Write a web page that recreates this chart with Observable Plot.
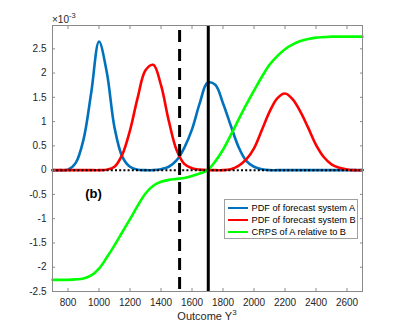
<!DOCTYPE html>
<html><head><meta charset="utf-8">
<script src="https://cdn.jsdelivr.net/npm/d3@7"></script>
<script src="https://cdn.jsdelivr.net/npm/@observablehq/plot@0.6"></script>
<style>
body{margin:0;background:#fff;font-family:"Liberation Sans",Arial,Helvetica,sans-serif;}
#wrap{position:relative;width:399px;height:327px;overflow:hidden;}
#wrap svg{display:block;}
.ov{position:absolute;color:#262626;white-space:nowrap;}
#mult{left:52px;top:14px;font-size:10px;line-height:12px;}
#mult sup{font-size:7.5px;vertical-align:5px;line-height:0;}
#xlab{left:0;width:414px;text-align:center;top:310px;font-size:11px;line-height:13px;}
#xlab sup{font-size:8px;vertical-align:5px;line-height:0;}
#legend{position:absolute;left:224px;top:199px;width:132px;height:38px;border:1px solid #a0a0a0;background:#fff;}
.lrow{position:absolute;left:3px;height:12px;display:flex;align-items:center;font-size:9.2px;color:#000;white-space:nowrap;}
.lrow i{display:inline-block;flex:none;width:20px;height:2.6px;margin-right:3.5px;}
</style></head><body>
<div id="wrap"></div>
<script>
// Outcome axis (Y^3) sample points
const outcome = [700,750,800,850,900,950,1000,1050,1100,1150,1200,1250,1300,1350,1400,1450,1500,1550,1600,1650,1700,1750,1800,1850,1900,1950,2000,2050,2100,2150,2200,2250,2300,2350,2400,2450,2500,2550,2600,2650,2700];
// values in units of 10^-3
const pdfA = [0,0,0.01,0.15,0.63,1.60,2.65,2.02,0.88,0.28,0.07,0.01,0,0,0.02,0.07,0.20,0.46,0.84,1.38,1.80,1.76,1.38,0.92,0.48,0.19,0.07,0.02,0,0,0,0,0,0,0,0,0,0,0,0,0];
const pdfB = [0,0,0,0,0,0,0,0.01,0.07,0.32,0.82,1.50,2.06,2.17,1.75,1.02,0.42,0.13,0.04,0.01,0,0,0,0.02,0.09,0.22,0.45,0.82,1.20,1.48,1.58,1.46,1.20,0.87,0.52,0.27,0.12,0.05,0.015,0,0];
const crpsAB = [-2.26,-2.26,-2.26,-2.25,-2.23,-2.17,-2.03,-1.80,-1.55,-1.28,-1.01,-0.73,-0.48,-0.32,-0.24,-0.20,-0.18,-0.16,-0.12,-0.07,0.00,0.18,0.42,0.72,1.04,1.35,1.64,1.92,2.17,2.35,2.49,2.59,2.66,2.70,2.73,2.74,2.75,2.75,2.75,2.75,2.75];
const seriesNames = ["PDF of forecast system A","PDF of forecast system B","CRPS of A relative to B"];
const dashedOutcome = [1520];
const solidOutcome = [1705];
const zeroLine = [0];
const xTicks = [800,1000,1200,1400,1600,1800,2000,2200,2400,2600];
const yTicks = [-2.5,-2,-1.5,-1,-0.5,0,0.5,1,1.5,2,2.5];
const panelLabel = ["(b)"];
const multiplierText = "×10";
const multiplierExp = "-3";
const xLabelText = "Outcome Y";
const xLabelExp = "3";

const colors = ["#0072BD","#FF0000","#00FF00"];
const seriesValues = [pdfA, pdfB, crpsAB];
const tables = seriesValues.map((vals, s) => outcome.map((x, i) => ({x, y: vals[i], s: seriesNames[s]})));

const axisColor = "#262626";
const frameColor = "#8a8a8a";

const chart = Plot.plot({
  width: 399, height: 327,
  marginLeft: 52, marginRight: 37, marginTop: 25, marginBottom: 36,
  style: {fontFamily: '"Liberation Sans",Arial,sans-serif', background: "#fff"},
  x: {domain: [700, 2700]},
  y: {domain: [-2.5, 2.98]},
  marks: [
    ...tables.map((t, s) => Plot.line(t, {x: "x", y: "y", stroke: colors[s], strokeWidth: 2.6, curve: "catmull-rom"})),
    Plot.ruleY(zeroLine, {stroke: "#000", strokeWidth: 2, strokeDasharray: "2,2.2"}),
    Plot.ruleX(dashedOutcome, {stroke: "#000", strokeWidth: 3, strokeDasharray: "12,7", strokeDashoffset: -5}),
    Plot.ruleX(solidOutcome, {stroke: "#000", strokeWidth: 3}),
    Plot.text(panelLabel, {frameAnchor: "left", dx: 41, dy: 35, textAnchor: "middle", fontWeight: "bold", fontSize: 13, fill: "#000"}),
    Plot.frame({stroke: frameColor, strokeWidth: 1}),
    Plot.axisX({anchor: "bottom", ticks: xTicks, tickSize: 0, tickPadding: 7, tickFormat: d => String(d), label: null, fontSize: 10, color: axisColor}),
    Plot.axisX({anchor: "bottom", ticks: xTicks, tickSize: -3, fill: "none", label: null, stroke: frameColor}),
    Plot.axisX({anchor: "top", ticks: xTicks, tickSize: -3, fill: "none", label: null, stroke: frameColor}),
    Plot.axisY({anchor: "left", ticks: yTicks, tickSize: 0, tickPadding: 6, tickFormat: d => String(d), label: null, fontSize: 10, color: axisColor}),
    Plot.axisY({anchor: "left", ticks: yTicks, tickSize: -3, fill: "none", label: null, stroke: frameColor}),
    Plot.axisY({anchor: "right", ticks: yTicks, tickSize: -3, fill: "none", label: null, stroke: frameColor})
  ]
});

const wrap = document.getElementById("wrap");
wrap.appendChild(chart);

const mult = document.createElement("div");
mult.className = "ov"; mult.id = "mult";
mult.innerHTML = multiplierText + "<sup>" + multiplierExp + "</sup>";
wrap.appendChild(mult);

const xlab = document.createElement("div");
xlab.className = "ov"; xlab.id = "xlab";
xlab.innerHTML = xLabelText + "<sup>" + xLabelExp + "</sup>";
wrap.appendChild(xlab);

const legend = document.createElement("div");
legend.id = "legend";
seriesNames.forEach((name, i) => {
  const row = document.createElement("div");
  row.className = "lrow";
  row.style.top = (2 + i * 12) + "px";
  const sw = document.createElement("i");
  sw.style.background = colors[i];
  row.appendChild(sw);
  row.appendChild(document.createTextNode(name));
  legend.appendChild(row);
});
wrap.appendChild(legend);
</script>
</body></html>
